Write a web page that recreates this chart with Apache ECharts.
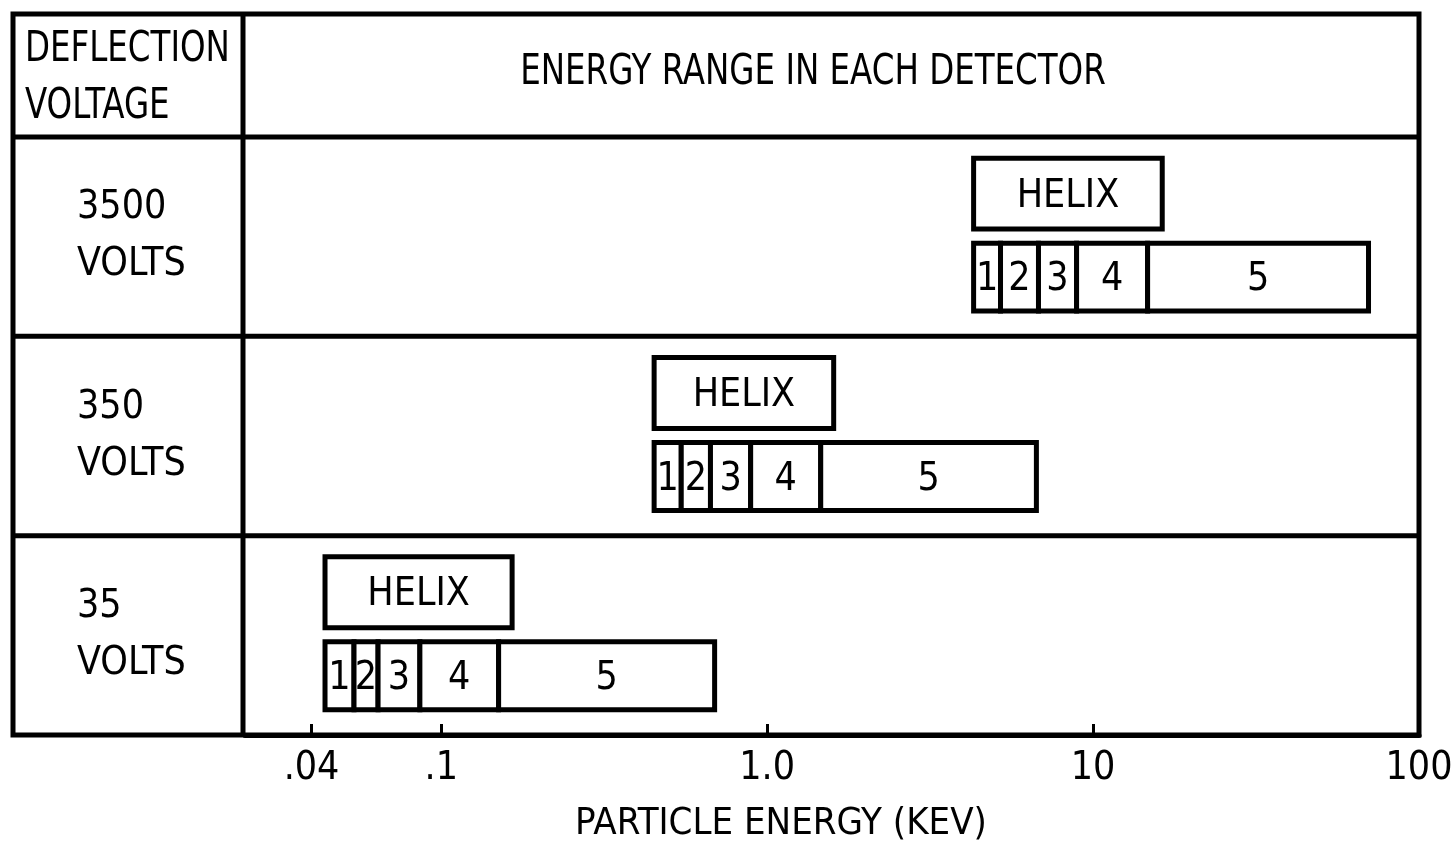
<!DOCTYPE html>
<html>
<head>
<meta charset="utf-8">
<script src="https://cdn.jsdelivr.net/npm/echarts@6/dist/echarts.min.js"></script>
<style>
  html, body { margin: 0; padding: 0; background: #fff; }
  #chart { width: 1451px; height: 842px; }
</style>
</head>
<body>
<div id="chart"></div>
<script>
// Deflection voltage rows (top to bottom)
const voltageRows = ['3500', '350', '35'];
// Energy range of the helix detector in each row (keV)
const helixRanges = [
  [4.3, 16.3],
  [0.45, 1.6],
  [0.044, 0.165]
];
// Energy edges of detectors 1..5 in each row (keV): six edges bound five cells
const detectorEdges = [
  [4.3, 5.2, 6.8, 8.9, 14.7, 70],
  [0.45, 0.545, 0.67, 0.89, 1.46, 6.7],
  [0.044, 0.054, 0.064, 0.086, 0.15, 0.69]
];
const detectorNames = ['1', '2', '3', '4', '5'];
// Energy axis ticks
const tickValues = [0.04, 0.1, 1, 10, 100];
const tickLabels = ['.04', '.1', '1.0', '10', '100'];
const axisMin = 0.025;
const axisMax = 100;

const FONT = '"DejaVu Sans Condensed", "Liberation Sans Narrow", "DejaVu Sans", sans-serif';
const INK = '#000';
const W = 1451, H = 842;
// table frame
const frameL = 13, frameT = 14, frameR = 1419, frameB = 735;
const plotL = 245, headerB = 137, dividerX = 243;

// flatten boxes into one list for the custom series
const boxes = [];
voltageRows.forEach((v, r) => {
  boxes.push({ value: [helixRanges[r][0], r, helixRanges[r][1]], kind: 'helix', label: 'HELIX' });
  detectorNames.forEach((name, i) => {
    boxes.push({ value: [detectorEdges[r][i], r, detectorEdges[r][i + 1]], kind: 'det', label: name });
  });
});

function renderBox(params, api) {
  const lo = api.value(0), row = api.value(1), hi = api.value(2);
  const p0 = api.coord([lo, row]);
  const p1 = api.coord([hi, row]);
  const band = Math.abs(api.coord([lo, 1])[1] - api.coord([lo, 0])[1]);
  const item = boxes[params.dataIndex];
  const isHelix = item.kind === 'helix';
  const cy = p0[1] + (isHelix ? -0.216 : 0.203) * band;
  const h = (isHelix ? 0.356 : 0.341) * band;
  return {
    type: 'rect',
    shape: { x: p0[0], y: cy - h / 2, width: p1[0] - p0[0], height: h },
    style: { fill: '#fff', stroke: INK, lineWidth: 5 },
    textContent: {
      type: 'text',
      style: { text: item.label, fontFamily: FONT, fontSize: 39, fill: INK }
    },
    textConfig: { position: 'inside', offset: [0, 3] }
  };
}

function tickIndex(v) {
  return tickValues.findIndex(t => Math.abs(Math.log10(t) - Math.log10(v)) < 1e-6);
}

// row separator positions follow the category bands of the grid
const rowH = (frameB - headerB) / voltageRows.length;
const frameLines = [
  [frameL, headerB, frameR, headerB],
  [dividerX, frameT, dividerX, frameB]
];
for (let k = 1; k < voltageRows.length; k++) {
  const y = headerB + rowH * k;
  frameLines.push([frameL, y, frameR, y]);
}

// header cell text, drawn a little condensed
function headerText(text, x, y, align) {
  return {
    type: 'text', x: x, y: y, scaleX: 0.86, silent: true,
    style: { text: text, fontFamily: FONT, fontSize: 42, fill: INK, align: align, verticalAlign: 'middle' }
  };
}

const chart = echarts.init(document.getElementById('chart'), null, { renderer: 'canvas' });
chart.setOption({
  backgroundColor: '#fff',
  animation: false,
  grid: {
    left: plotL, right: W - frameR, top: headerB, bottom: H - frameB,
    containLabel: false, outerBoundsMode: 'none'
  },
  xAxis: {
    type: 'log',
    logBase: 10,
    min: axisMin,
    max: axisMax,
    axisLine: { show: true, lineStyle: { color: INK, width: 5 } },
    axisTick: {
      show: true, inside: true, length: 11,
      customValues: tickValues.slice(0, 4),
      lineStyle: { color: INK, width: 3 }
    },
    axisLabel: {
      customValues: tickValues,
      formatter: v => tickLabels[tickIndex(v)] || '',
      color: INK, fontFamily: FONT, fontSize: 39, margin: 14
    },
    splitLine: { show: false },
    minorTick: { show: false },
    name: 'PARTICLE ENERGY (KEV)',
    nameLocation: 'middle',
    nameGap: 70,
    nameTextStyle: { color: INK, fontFamily: FONT, fontSize: 38, padding: [0, 102, 0, 0] }
  },
  yAxis: {
    type: 'category',
    data: voltageRows,
    inverse: true,
    axisLine: { show: false },
    axisTick: { show: false },
    splitLine: { show: false },
    axisLabel: {
      formatter: v => v + '\nVOLTS',
      align: 'left',
      margin: plotL - 77,
      color: INK, fontFamily: FONT, fontSize: 39, lineHeight: 57,
      padding: [8, 0, 0, 0]
    }
  },
  graphic: [
    {
      type: 'rect', silent: true,
      shape: { x: frameL, y: frameT, width: frameR - frameL, height: frameB - frameT },
      style: { fill: null, stroke: INK, lineWidth: 5 }
    },
    ...frameLines.map(l => ({
      type: 'line', silent: true,
      shape: { x1: l[0], y1: l[1], x2: l[2], y2: l[3] },
      style: { stroke: INK, lineWidth: 5 }
    })),
    headerText('DEFLECTION', 25, 50, 'left'),
    headerText('VOLTAGE', 25, 107, 'left'),
    headerText('ENERGY RANGE IN EACH DETECTOR', 813, 73, 'center')
  ],
  series: [{
    type: 'custom',
    renderItem: renderBox,
    encode: { x: [0, 2], y: 1 },
    data: boxes,
    clip: false
  }]
});
</script>
</body>
</html>
